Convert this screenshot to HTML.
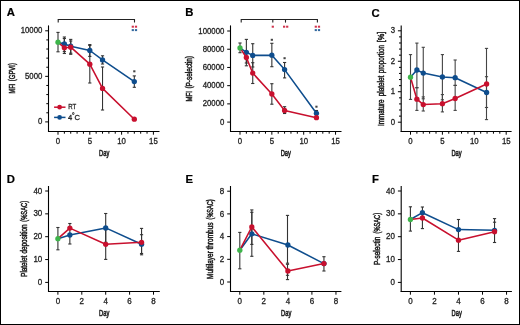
<!DOCTYPE html>
<html><head><meta charset="utf-8"><style>
html,body{margin:0;padding:0;background:#fff;}
svg{display:block;will-change:transform;}
text{font-family:"Liberation Sans",sans-serif;}
</style></head><body>
<svg width="520" height="325" viewBox="0 0 520 325">
<rect x="0" y="0" width="520" height="325" fill="#fff"/>
<rect x="0.5" y="0.5" width="519" height="324" fill="none" stroke="#000" stroke-width="1"/>
<text x="6.8" y="16.4" font-size="11.3" text-anchor="start" fill="#000" font-weight="bold" stroke="#000" stroke-width="0.2" >A</text>
<line x1="48.5" y1="25.4" x2="48.5" y2="132.0" stroke="#000" stroke-width="1.1" />
<line x1="48.0" y1="131.5" x2="159.5" y2="131.5" stroke="#000" stroke-width="1.1" />
<line x1="45.2" y1="121.9" x2="48.5" y2="121.9" stroke="#000" stroke-width="1.0" />
<text transform="translate(42.30,124.45) scale(1,1.06)" font-size="7.8" text-anchor="end" fill="#222" font-weight="normal" stroke="#222" stroke-width="0.28" >0</text>
<line x1="45.2" y1="76.35" x2="48.5" y2="76.35" stroke="#000" stroke-width="1.0" />
<text transform="translate(42.30,78.90) scale(1,1.06)" font-size="7.8" text-anchor="end" fill="#222" font-weight="normal" stroke="#222" stroke-width="0.28" >5000</text>
<line x1="45.2" y1="30.8" x2="48.5" y2="30.8" stroke="#000" stroke-width="1.0" />
<text transform="translate(42.30,33.35) scale(1,1.06)" font-size="7.8" text-anchor="end" fill="#222" font-weight="normal" stroke="#222" stroke-width="0.28" >10000</text>
<line x1="46.3" y1="112.79" x2="48.5" y2="112.79" stroke="#000" stroke-width="1.0" />
<line x1="46.3" y1="103.68" x2="48.5" y2="103.68" stroke="#000" stroke-width="1.0" />
<line x1="46.3" y1="94.57" x2="48.5" y2="94.57" stroke="#000" stroke-width="1.0" />
<line x1="46.3" y1="85.46" x2="48.5" y2="85.46" stroke="#000" stroke-width="1.0" />
<line x1="46.3" y1="67.24" x2="48.5" y2="67.24" stroke="#000" stroke-width="1.0" />
<line x1="46.3" y1="58.13" x2="48.5" y2="58.13" stroke="#000" stroke-width="1.0" />
<line x1="46.3" y1="49.02" x2="48.5" y2="49.02" stroke="#000" stroke-width="1.0" />
<line x1="46.3" y1="39.91" x2="48.5" y2="39.91" stroke="#000" stroke-width="1.0" />
<line x1="58.0" y1="131.5" x2="58.0" y2="134.7" stroke="#000" stroke-width="1.0" />
<text transform="translate(58.00,143.90) scale(1,1.06)" font-size="7.8" text-anchor="middle" fill="#222" font-weight="normal" stroke="#222" stroke-width="0.28" >0</text>
<line x1="89.8" y1="131.5" x2="89.8" y2="134.7" stroke="#000" stroke-width="1.0" />
<text transform="translate(89.80,143.90) scale(1,1.06)" font-size="7.8" text-anchor="middle" fill="#222" font-weight="normal" stroke="#222" stroke-width="0.28" >5</text>
<line x1="121.6" y1="131.5" x2="121.6" y2="134.7" stroke="#000" stroke-width="1.0" />
<text transform="translate(121.60,143.90) scale(1,1.06)" font-size="7.8" text-anchor="middle" fill="#222" font-weight="normal" stroke="#222" stroke-width="0.28" >10</text>
<line x1="153.4" y1="131.5" x2="153.4" y2="134.7" stroke="#000" stroke-width="1.0" />
<text transform="translate(153.40,143.90) scale(1,1.06)" font-size="7.8" text-anchor="middle" fill="#222" font-weight="normal" stroke="#222" stroke-width="0.28" >15</text>
<line x1="64.36" y1="131.5" x2="64.36" y2="133.7" stroke="#000" stroke-width="1.0" />
<line x1="70.72" y1="131.5" x2="70.72" y2="133.7" stroke="#000" stroke-width="1.0" />
<line x1="77.08" y1="131.5" x2="77.08" y2="133.7" stroke="#000" stroke-width="1.0" />
<line x1="83.44" y1="131.5" x2="83.44" y2="133.7" stroke="#000" stroke-width="1.0" />
<line x1="96.16" y1="131.5" x2="96.16" y2="133.7" stroke="#000" stroke-width="1.0" />
<line x1="102.52" y1="131.5" x2="102.52" y2="133.7" stroke="#000" stroke-width="1.0" />
<line x1="108.88" y1="131.5" x2="108.88" y2="133.7" stroke="#000" stroke-width="1.0" />
<line x1="115.24" y1="131.5" x2="115.24" y2="133.7" stroke="#000" stroke-width="1.0" />
<line x1="127.96" y1="131.5" x2="127.96" y2="133.7" stroke="#000" stroke-width="1.0" />
<line x1="134.32" y1="131.5" x2="134.32" y2="133.7" stroke="#000" stroke-width="1.0" />
<line x1="140.68" y1="131.5" x2="140.68" y2="133.7" stroke="#000" stroke-width="1.0" />
<line x1="147.04" y1="131.5" x2="147.04" y2="133.7" stroke="#000" stroke-width="1.0" />
<text transform="translate(14.5,93.4) rotate(-90)" x="0" y="0" font-size="8.3" text-anchor="start" fill="#222" stroke="#222" stroke-width="0.5" textLength="9.5" lengthAdjust="spacingAndGlyphs">MFI</text>
<text transform="translate(14.5,81.2) rotate(-90)" x="0" y="0" font-size="8.3" text-anchor="start" fill="#222" stroke="#222" stroke-width="0.5" textLength="18.1" lengthAdjust="spacingAndGlyphs">(GPVI)</text>
<text x="104.2" y="155.9" font-size="9.5" text-anchor="middle" fill="#222" stroke="#222" stroke-width="0.6" textLength="10.2" lengthAdjust="spacingAndGlyphs">Day</text>
<polyline points="58.2,22.4 58.2,19.5 134.5,19.5 134.5,22.4" fill="none" stroke="#222" stroke-width="1.1"/>
<rect x="131.7" y="25.7" width="2.2" height="2" fill="#c8102e" opacity="0.85"/>
<rect x="134.9" y="25.7" width="2.2" height="2" fill="#c8102e" opacity="0.85"/>
<rect x="131.7" y="29.1" width="2.2" height="2" fill="#0e4d8d" opacity="0.85"/>
<rect x="134.9" y="29.1" width="2.2" height="2" fill="#0e4d8d" opacity="0.85"/>
<line x1="58.0" y1="32.4" x2="58.0" y2="51.8" stroke="#333" stroke-width="1.1" />
<line x1="56.4" y1="32.4" x2="59.6" y2="32.4" stroke="#333" stroke-width="1.1" />
<line x1="56.4" y1="51.8" x2="59.6" y2="51.8" stroke="#333" stroke-width="1.1" />
<line x1="64.36" y1="37" x2="64.36" y2="51.6" stroke="#333" stroke-width="1.1" />
<line x1="62.76" y1="37" x2="65.96" y2="37" stroke="#333" stroke-width="1.1" />
<line x1="62.76" y1="51.6" x2="65.96" y2="51.6" stroke="#333" stroke-width="1.1" />
<line x1="64.36" y1="38.5" x2="64.36" y2="53.5" stroke="#333" stroke-width="1.1" />
<line x1="62.76" y1="38.5" x2="65.96" y2="38.5" stroke="#333" stroke-width="1.1" />
<line x1="62.76" y1="53.5" x2="65.96" y2="53.5" stroke="#333" stroke-width="1.1" />
<line x1="70.72" y1="39.4" x2="70.72" y2="53.2" stroke="#333" stroke-width="1.1" />
<line x1="69.12" y1="39.4" x2="72.32" y2="39.4" stroke="#333" stroke-width="1.1" />
<line x1="69.12" y1="53.2" x2="72.32" y2="53.2" stroke="#333" stroke-width="1.1" />
<line x1="70.72" y1="41" x2="70.72" y2="54.3" stroke="#333" stroke-width="1.1" />
<line x1="69.12" y1="41" x2="72.32" y2="41" stroke="#333" stroke-width="1.1" />
<line x1="69.12" y1="54.3" x2="72.32" y2="54.3" stroke="#333" stroke-width="1.1" />
<line x1="89.8" y1="44.6" x2="89.8" y2="56.4" stroke="#333" stroke-width="1.1" />
<line x1="88.2" y1="44.6" x2="91.4" y2="44.6" stroke="#333" stroke-width="1.1" />
<line x1="88.2" y1="56.4" x2="91.4" y2="56.4" stroke="#333" stroke-width="1.1" />
<line x1="89.8" y1="45.4" x2="89.8" y2="83" stroke="#333" stroke-width="1.1" />
<line x1="88.2" y1="45.4" x2="91.4" y2="45.4" stroke="#333" stroke-width="1.1" />
<line x1="88.2" y1="83" x2="91.4" y2="83" stroke="#333" stroke-width="1.1" />
<line x1="102.52" y1="55.8" x2="102.52" y2="64" stroke="#333" stroke-width="1.1" />
<line x1="100.92" y1="55.8" x2="104.12" y2="55.8" stroke="#333" stroke-width="1.1" />
<line x1="100.92" y1="64" x2="104.12" y2="64" stroke="#333" stroke-width="1.1" />
<line x1="102.52" y1="67" x2="102.52" y2="110" stroke="#333" stroke-width="1.1" />
<line x1="100.92" y1="67" x2="104.12" y2="67" stroke="#333" stroke-width="1.1" />
<line x1="100.92" y1="110" x2="104.12" y2="110" stroke="#333" stroke-width="1.1" />
<line x1="134.32" y1="75.9" x2="134.32" y2="87.3" stroke="#333" stroke-width="1.1" />
<line x1="132.72" y1="75.9" x2="135.92" y2="75.9" stroke="#333" stroke-width="1.1" />
<line x1="132.72" y1="87.3" x2="135.92" y2="87.3" stroke="#333" stroke-width="1.1" />
<rect x="133.22" y="70.3" width="2.2" height="2" fill="#222" opacity="0.85"/>
<polyline points="58.0,42.2 64.36,44.0 70.72,46.2 89.8,50.5 102.52,59.9 134.32,81.6" fill="none" stroke="#0e4d8d" stroke-width="1.55" stroke-linejoin="round"/>
<circle cx="64.36" cy="44.0" r="2.65" fill="#0e4d8d"/>
<circle cx="70.72" cy="46.2" r="2.65" fill="#0e4d8d"/>
<circle cx="89.8" cy="50.5" r="2.65" fill="#0e4d8d"/>
<circle cx="102.52" cy="59.9" r="2.65" fill="#0e4d8d"/>
<circle cx="134.32" cy="81.6" r="2.65" fill="#0e4d8d"/>
<polyline points="58.0,42.2 64.36,47.8 70.72,47.2 89.8,64.2 102.52,88.4 134.32,119.2" fill="none" stroke="#c8102e" stroke-width="1.55" stroke-linejoin="round"/>
<circle cx="64.36" cy="47.8" r="2.65" fill="#c8102e"/>
<circle cx="70.72" cy="47.2" r="2.65" fill="#c8102e"/>
<circle cx="89.8" cy="64.2" r="2.65" fill="#c8102e"/>
<circle cx="102.52" cy="88.4" r="2.65" fill="#c8102e"/>
<circle cx="134.32" cy="119.2" r="2.65" fill="#c8102e"/>
<circle cx="58.0" cy="42.2" r="2.65" fill="#3db54a"/>
<line x1="54.1" y1="107.2" x2="65.5" y2="107.2" stroke="#c8102e" stroke-width="1.5" />
<circle cx="59.6" cy="107.2" r="2.35" fill="#c8102e"/>
<text x="68.2" y="109.3" font-size="7.6" text-anchor="start" fill="#222" font-weight="normal" stroke="#222" stroke-width="0.28" textLength="8" lengthAdjust="spacingAndGlyphs">RT</text>
<line x1="54.1" y1="117.4" x2="65.5" y2="117.4" stroke="#0e4d8d" stroke-width="1.5" />
<circle cx="59.6" cy="117.4" r="2.35" fill="#0e4d8d"/>
<text x="68" y="119.5" font-size="7.6" text-anchor="start" fill="#222" font-weight="normal" stroke="#222" stroke-width="0.28" >4</text>
<text x="72.0" y="118.3" font-size="6.6" text-anchor="start" fill="#222" font-weight="normal" stroke="#222" stroke-width="0.28" >°</text>
<text x="74.6" y="119.5" font-size="7.6" text-anchor="start" fill="#222" font-weight="normal" stroke="#222" stroke-width="0.28" >C</text>
<text x="185.3" y="16.4" font-size="11.3" text-anchor="start" fill="#000" font-weight="bold" stroke="#000" stroke-width="0.2" >B</text>
<line x1="230.5" y1="25.4" x2="230.5" y2="132.0" stroke="#000" stroke-width="1.1" />
<line x1="230.0" y1="131.5" x2="341.5" y2="131.5" stroke="#000" stroke-width="1.1" />
<line x1="227.2" y1="122.1" x2="230.5" y2="122.1" stroke="#000" stroke-width="1.0" />
<text transform="translate(224.30,124.65) scale(1,1.06)" font-size="7.8" text-anchor="end" fill="#222" font-weight="normal" stroke="#222" stroke-width="0.28" >0</text>
<line x1="227.2" y1="103.88" x2="230.5" y2="103.88" stroke="#000" stroke-width="1.0" />
<text transform="translate(224.30,106.43) scale(1,1.06)" font-size="7.8" text-anchor="end" fill="#222" font-weight="normal" stroke="#222" stroke-width="0.28" >20000</text>
<line x1="227.2" y1="85.66" x2="230.5" y2="85.66" stroke="#000" stroke-width="1.0" />
<text transform="translate(224.30,88.21) scale(1,1.06)" font-size="7.8" text-anchor="end" fill="#222" font-weight="normal" stroke="#222" stroke-width="0.28" >40000</text>
<line x1="227.2" y1="67.44" x2="230.5" y2="67.44" stroke="#000" stroke-width="1.0" />
<text transform="translate(224.30,69.99) scale(1,1.06)" font-size="7.8" text-anchor="end" fill="#222" font-weight="normal" stroke="#222" stroke-width="0.28" >60000</text>
<line x1="227.2" y1="49.22" x2="230.5" y2="49.22" stroke="#000" stroke-width="1.0" />
<text transform="translate(224.30,51.77) scale(1,1.06)" font-size="7.8" text-anchor="end" fill="#222" font-weight="normal" stroke="#222" stroke-width="0.28" >80000</text>
<line x1="227.2" y1="31.0" x2="230.5" y2="31.0" stroke="#000" stroke-width="1.0" />
<text transform="translate(224.30,33.55) scale(1,1.06)" font-size="7.8" text-anchor="end" fill="#222" font-weight="normal" stroke="#222" stroke-width="0.28" >100000</text>
<line x1="240.0" y1="131.5" x2="240.0" y2="134.7" stroke="#000" stroke-width="1.0" />
<text transform="translate(240.00,143.90) scale(1,1.06)" font-size="7.8" text-anchor="middle" fill="#222" font-weight="normal" stroke="#222" stroke-width="0.28" >0</text>
<line x1="271.85" y1="131.5" x2="271.85" y2="134.7" stroke="#000" stroke-width="1.0" />
<text transform="translate(271.85,143.90) scale(1,1.06)" font-size="7.8" text-anchor="middle" fill="#222" font-weight="normal" stroke="#222" stroke-width="0.28" >5</text>
<line x1="303.7" y1="131.5" x2="303.7" y2="134.7" stroke="#000" stroke-width="1.0" />
<text transform="translate(303.70,143.90) scale(1,1.06)" font-size="7.8" text-anchor="middle" fill="#222" font-weight="normal" stroke="#222" stroke-width="0.28" >10</text>
<line x1="335.55" y1="131.5" x2="335.55" y2="134.7" stroke="#000" stroke-width="1.0" />
<text transform="translate(335.55,143.90) scale(1,1.06)" font-size="7.8" text-anchor="middle" fill="#222" font-weight="normal" stroke="#222" stroke-width="0.28" >15</text>
<line x1="246.37" y1="131.5" x2="246.37" y2="133.7" stroke="#000" stroke-width="1.0" />
<line x1="252.74" y1="131.5" x2="252.74" y2="133.7" stroke="#000" stroke-width="1.0" />
<line x1="259.11" y1="131.5" x2="259.11" y2="133.7" stroke="#000" stroke-width="1.0" />
<line x1="265.48" y1="131.5" x2="265.48" y2="133.7" stroke="#000" stroke-width="1.0" />
<line x1="278.22" y1="131.5" x2="278.22" y2="133.7" stroke="#000" stroke-width="1.0" />
<line x1="284.59" y1="131.5" x2="284.59" y2="133.7" stroke="#000" stroke-width="1.0" />
<line x1="290.96" y1="131.5" x2="290.96" y2="133.7" stroke="#000" stroke-width="1.0" />
<line x1="297.33" y1="131.5" x2="297.33" y2="133.7" stroke="#000" stroke-width="1.0" />
<line x1="310.07" y1="131.5" x2="310.07" y2="133.7" stroke="#000" stroke-width="1.0" />
<line x1="316.44" y1="131.5" x2="316.44" y2="133.7" stroke="#000" stroke-width="1.0" />
<line x1="322.81" y1="131.5" x2="322.81" y2="133.7" stroke="#000" stroke-width="1.0" />
<line x1="329.18" y1="131.5" x2="329.18" y2="133.7" stroke="#000" stroke-width="1.0" />
<text transform="translate(192.3,101.5) rotate(-90)" x="0" y="0" font-size="8.3" text-anchor="start" fill="#222" stroke="#222" stroke-width="0.5" textLength="10.4" lengthAdjust="spacingAndGlyphs">MFI</text>
<text transform="translate(192.3,88.6) rotate(-90)" x="0" y="0" font-size="8.3" text-anchor="start" fill="#222" stroke="#222" stroke-width="0.5" textLength="32.6" lengthAdjust="spacingAndGlyphs">(P-selectin)</text>
<text x="285.8" y="155.9" font-size="9.5" text-anchor="middle" fill="#222" stroke="#222" stroke-width="0.6" textLength="10.2" lengthAdjust="spacingAndGlyphs">Day</text>
<polyline points="241.2,22.6 241.2,19.5 317.4,19.5 317.4,22.6" fill="none" stroke="#222" stroke-width="1.1"/>
<line x1="272.8" y1="19.5" x2="272.8" y2="22.6" stroke="#222" stroke-width="1.1" />
<line x1="285.5" y1="19.5" x2="285.5" y2="22.6" stroke="#222" stroke-width="1.1" />
<rect x="271.7" y="25.7" width="2.2" height="2" fill="#c8102e" opacity="0.85"/>
<rect x="283" y="25.7" width="2.2" height="2" fill="#c8102e" opacity="0.85"/>
<rect x="286.1" y="25.7" width="2.2" height="2" fill="#c8102e" opacity="0.85"/>
<rect x="314.7" y="25.7" width="2.2" height="2" fill="#c8102e" opacity="0.85"/>
<rect x="317.9" y="25.7" width="2.2" height="2" fill="#c8102e" opacity="0.85"/>
<rect x="314.7" y="29.1" width="2.2" height="2" fill="#0e4d8d" opacity="0.85"/>
<rect x="317.9" y="29.1" width="2.2" height="2" fill="#0e4d8d" opacity="0.85"/>
<line x1="240.0" y1="43" x2="240.0" y2="52.7" stroke="#333" stroke-width="1.1" />
<line x1="238.4" y1="43" x2="241.6" y2="43" stroke="#333" stroke-width="1.1" />
<line x1="238.4" y1="52.7" x2="241.6" y2="52.7" stroke="#333" stroke-width="1.1" />
<line x1="246.37" y1="39.4" x2="246.37" y2="65.8" stroke="#333" stroke-width="1.1" />
<line x1="244.77" y1="39.4" x2="247.97" y2="39.4" stroke="#333" stroke-width="1.1" />
<line x1="244.77" y1="65.8" x2="247.97" y2="65.8" stroke="#333" stroke-width="1.1" />
<line x1="246.37" y1="52" x2="246.37" y2="63" stroke="#333" stroke-width="1.1" />
<line x1="244.77" y1="52" x2="247.97" y2="52" stroke="#333" stroke-width="1.1" />
<line x1="244.77" y1="63" x2="247.97" y2="63" stroke="#333" stroke-width="1.1" />
<line x1="252.74" y1="43.7" x2="252.74" y2="67" stroke="#333" stroke-width="1.1" />
<line x1="251.14" y1="43.7" x2="254.34" y2="43.7" stroke="#333" stroke-width="1.1" />
<line x1="251.14" y1="67" x2="254.34" y2="67" stroke="#333" stroke-width="1.1" />
<line x1="252.74" y1="62.7" x2="252.74" y2="83.5" stroke="#333" stroke-width="1.1" />
<line x1="251.14" y1="62.7" x2="254.34" y2="62.7" stroke="#333" stroke-width="1.1" />
<line x1="251.14" y1="83.5" x2="254.34" y2="83.5" stroke="#333" stroke-width="1.1" />
<line x1="271.85" y1="43.3" x2="271.85" y2="66.7" stroke="#333" stroke-width="1.1" />
<line x1="270.25" y1="43.3" x2="273.45" y2="43.3" stroke="#333" stroke-width="1.1" />
<line x1="270.25" y1="66.7" x2="273.45" y2="66.7" stroke="#333" stroke-width="1.1" />
<line x1="271.85" y1="83.7" x2="271.85" y2="104.2" stroke="#333" stroke-width="1.1" />
<line x1="270.25" y1="83.7" x2="273.45" y2="83.7" stroke="#333" stroke-width="1.1" />
<line x1="270.25" y1="104.2" x2="273.45" y2="104.2" stroke="#333" stroke-width="1.1" />
<line x1="284.59" y1="62.5" x2="284.59" y2="77.9" stroke="#333" stroke-width="1.1" />
<line x1="282.99" y1="62.5" x2="286.19" y2="62.5" stroke="#333" stroke-width="1.1" />
<line x1="282.99" y1="77.9" x2="286.19" y2="77.9" stroke="#333" stroke-width="1.1" />
<line x1="284.59" y1="106.7" x2="284.59" y2="113.5" stroke="#333" stroke-width="1.1" />
<line x1="282.99" y1="106.7" x2="286.19" y2="106.7" stroke="#333" stroke-width="1.1" />
<line x1="282.99" y1="113.5" x2="286.19" y2="113.5" stroke="#333" stroke-width="1.1" />
<line x1="316.44" y1="110.5" x2="316.44" y2="116" stroke="#333" stroke-width="1.1" />
<line x1="314.84" y1="110.5" x2="318.04" y2="110.5" stroke="#333" stroke-width="1.1" />
<line x1="314.84" y1="116" x2="318.04" y2="116" stroke="#333" stroke-width="1.1" />
<rect x="270.75" y="38.8" width="2.2" height="2" fill="#222" opacity="0.85"/>
<rect x="283.49" y="57.2" width="2.2" height="2" fill="#222" opacity="0.85"/>
<rect x="315.34" y="105.7" width="2.2" height="2" fill="#222" opacity="0.85"/>
<polyline points="240.0,47.9 246.37,52.3 252.74,55.4 271.85,55.2 284.59,69.6 316.44,113.3" fill="none" stroke="#0e4d8d" stroke-width="1.55" stroke-linejoin="round"/>
<circle cx="246.37" cy="52.3" r="2.65" fill="#0e4d8d"/>
<circle cx="252.74" cy="55.4" r="2.65" fill="#0e4d8d"/>
<circle cx="271.85" cy="55.2" r="2.65" fill="#0e4d8d"/>
<circle cx="284.59" cy="69.6" r="2.65" fill="#0e4d8d"/>
<circle cx="316.44" cy="113.3" r="2.65" fill="#0e4d8d"/>
<polyline points="240.0,47.9 246.37,57.5 252.74,73.1 271.85,94.0 284.59,110.4 316.44,117.7" fill="none" stroke="#c8102e" stroke-width="1.55" stroke-linejoin="round"/>
<circle cx="246.37" cy="57.5" r="2.65" fill="#c8102e"/>
<circle cx="252.74" cy="73.1" r="2.65" fill="#c8102e"/>
<circle cx="271.85" cy="94.0" r="2.65" fill="#c8102e"/>
<circle cx="284.59" cy="110.4" r="2.65" fill="#c8102e"/>
<circle cx="316.44" cy="117.7" r="2.65" fill="#c8102e"/>
<circle cx="240.0" cy="47.9" r="2.65" fill="#3db54a"/>
<text x="371.5" y="16.6" font-size="11.3" text-anchor="start" fill="#000" font-weight="bold" stroke="#000" stroke-width="0.2" >C</text>
<line x1="401.2" y1="25.4" x2="401.2" y2="132.0" stroke="#000" stroke-width="1.1" />
<line x1="400.7" y1="131.5" x2="511.6" y2="131.5" stroke="#000" stroke-width="1.1" />
<line x1="397.9" y1="122.2" x2="401.2" y2="122.2" stroke="#000" stroke-width="1.0" />
<text transform="translate(395.00,124.75) scale(1,1.06)" font-size="7.8" text-anchor="end" fill="#222" font-weight="normal" stroke="#222" stroke-width="0.28" >0</text>
<line x1="397.9" y1="91.73" x2="401.2" y2="91.73" stroke="#000" stroke-width="1.0" />
<text transform="translate(395.00,94.28) scale(1,1.06)" font-size="7.8" text-anchor="end" fill="#222" font-weight="normal" stroke="#222" stroke-width="0.28" >1</text>
<line x1="397.9" y1="61.27" x2="401.2" y2="61.27" stroke="#000" stroke-width="1.0" />
<text transform="translate(395.00,63.82) scale(1,1.06)" font-size="7.8" text-anchor="end" fill="#222" font-weight="normal" stroke="#222" stroke-width="0.28" >2</text>
<line x1="397.9" y1="30.8" x2="401.2" y2="30.8" stroke="#000" stroke-width="1.0" />
<text transform="translate(395.00,33.35) scale(1,1.06)" font-size="7.8" text-anchor="end" fill="#222" font-weight="normal" stroke="#222" stroke-width="0.28" >3</text>
<line x1="399.0" y1="116.11" x2="401.2" y2="116.11" stroke="#000" stroke-width="1.0" />
<line x1="399.0" y1="110.01" x2="401.2" y2="110.01" stroke="#000" stroke-width="1.0" />
<line x1="399.0" y1="103.92" x2="401.2" y2="103.92" stroke="#000" stroke-width="1.0" />
<line x1="399.0" y1="97.83" x2="401.2" y2="97.83" stroke="#000" stroke-width="1.0" />
<line x1="399.0" y1="85.64" x2="401.2" y2="85.64" stroke="#000" stroke-width="1.0" />
<line x1="399.0" y1="79.55" x2="401.2" y2="79.55" stroke="#000" stroke-width="1.0" />
<line x1="399.0" y1="73.45" x2="401.2" y2="73.45" stroke="#000" stroke-width="1.0" />
<line x1="399.0" y1="67.36" x2="401.2" y2="67.36" stroke="#000" stroke-width="1.0" />
<line x1="399.0" y1="55.17" x2="401.2" y2="55.17" stroke="#000" stroke-width="1.0" />
<line x1="399.0" y1="49.08" x2="401.2" y2="49.08" stroke="#000" stroke-width="1.0" />
<line x1="399.0" y1="42.99" x2="401.2" y2="42.99" stroke="#000" stroke-width="1.0" />
<line x1="399.0" y1="36.89" x2="401.2" y2="36.89" stroke="#000" stroke-width="1.0" />
<line x1="410.5" y1="131.5" x2="410.5" y2="134.7" stroke="#000" stroke-width="1.0" />
<text transform="translate(410.50,143.90) scale(1,1.06)" font-size="7.8" text-anchor="middle" fill="#222" font-weight="normal" stroke="#222" stroke-width="0.28" >0</text>
<line x1="442.4" y1="131.5" x2="442.4" y2="134.7" stroke="#000" stroke-width="1.0" />
<text transform="translate(442.40,143.90) scale(1,1.06)" font-size="7.8" text-anchor="middle" fill="#222" font-weight="normal" stroke="#222" stroke-width="0.28" >5</text>
<line x1="474.3" y1="131.5" x2="474.3" y2="134.7" stroke="#000" stroke-width="1.0" />
<text transform="translate(474.30,143.90) scale(1,1.06)" font-size="7.8" text-anchor="middle" fill="#222" font-weight="normal" stroke="#222" stroke-width="0.28" >10</text>
<line x1="506.2" y1="131.5" x2="506.2" y2="134.7" stroke="#000" stroke-width="1.0" />
<text transform="translate(506.20,143.90) scale(1,1.06)" font-size="7.8" text-anchor="middle" fill="#222" font-weight="normal" stroke="#222" stroke-width="0.28" >15</text>
<line x1="416.88" y1="131.5" x2="416.88" y2="133.7" stroke="#000" stroke-width="1.0" />
<line x1="423.26" y1="131.5" x2="423.26" y2="133.7" stroke="#000" stroke-width="1.0" />
<line x1="429.64" y1="131.5" x2="429.64" y2="133.7" stroke="#000" stroke-width="1.0" />
<line x1="436.02" y1="131.5" x2="436.02" y2="133.7" stroke="#000" stroke-width="1.0" />
<line x1="448.78" y1="131.5" x2="448.78" y2="133.7" stroke="#000" stroke-width="1.0" />
<line x1="455.16" y1="131.5" x2="455.16" y2="133.7" stroke="#000" stroke-width="1.0" />
<line x1="461.54" y1="131.5" x2="461.54" y2="133.7" stroke="#000" stroke-width="1.0" />
<line x1="467.92" y1="131.5" x2="467.92" y2="133.7" stroke="#000" stroke-width="1.0" />
<line x1="480.68" y1="131.5" x2="480.68" y2="133.7" stroke="#000" stroke-width="1.0" />
<line x1="487.06" y1="131.5" x2="487.06" y2="133.7" stroke="#000" stroke-width="1.0" />
<line x1="493.44" y1="131.5" x2="493.44" y2="133.7" stroke="#000" stroke-width="1.0" />
<line x1="499.82" y1="131.5" x2="499.82" y2="133.7" stroke="#000" stroke-width="1.0" />
<text transform="translate(384.1,125.9) rotate(-90)" x="0" y="0" font-size="8.3" text-anchor="start" fill="#222" stroke="#222" stroke-width="0.5" textLength="26.5" lengthAdjust="spacingAndGlyphs">Immature</text>
<text transform="translate(384.1,96.3) rotate(-90)" x="0" y="0" font-size="8.3" text-anchor="start" fill="#222" stroke="#222" stroke-width="0.5" textLength="20.6" lengthAdjust="spacingAndGlyphs">platelet</text>
<text transform="translate(384.1,73.2) rotate(-90)" x="0" y="0" font-size="8.3" text-anchor="start" fill="#222" stroke="#222" stroke-width="0.5" textLength="28.1" lengthAdjust="spacingAndGlyphs">proportion</text>
<text transform="translate(384.1,42.3) rotate(-90)" x="0" y="0" font-size="8.3" text-anchor="start" fill="#222" stroke="#222" stroke-width="0.5" textLength="10.6" lengthAdjust="spacingAndGlyphs">[%]</text>
<text x="456.5" y="155.9" font-size="9.5" text-anchor="middle" fill="#222" stroke="#222" stroke-width="0.6" textLength="10.2" lengthAdjust="spacingAndGlyphs">Day</text>
<line x1="410.5" y1="54.6" x2="410.5" y2="99.4" stroke="#444" stroke-width="1.1" />
<line x1="408.9" y1="54.6" x2="412.1" y2="54.6" stroke="#444" stroke-width="1.1" />
<line x1="408.9" y1="99.4" x2="412.1" y2="99.4" stroke="#444" stroke-width="1.1" />
<line x1="416.88" y1="43.1" x2="416.88" y2="87.7" stroke="#444" stroke-width="1.1" />
<line x1="415.28" y1="43.1" x2="418.48" y2="43.1" stroke="#444" stroke-width="1.1" />
<line x1="415.28" y1="87.7" x2="418.48" y2="87.7" stroke="#444" stroke-width="1.1" />
<line x1="416.88" y1="87.7" x2="416.88" y2="110.4" stroke="#444" stroke-width="1.1" />
<line x1="415.28" y1="87.7" x2="418.48" y2="87.7" stroke="#444" stroke-width="1.1" />
<line x1="415.28" y1="110.4" x2="418.48" y2="110.4" stroke="#444" stroke-width="1.1" />
<line x1="423.26" y1="47.3" x2="423.26" y2="98.8" stroke="#444" stroke-width="1.1" />
<line x1="421.66" y1="47.3" x2="424.86" y2="47.3" stroke="#444" stroke-width="1.1" />
<line x1="421.66" y1="98.8" x2="424.86" y2="98.8" stroke="#444" stroke-width="1.1" />
<line x1="423.26" y1="96.9" x2="423.26" y2="111" stroke="#444" stroke-width="1.1" />
<line x1="421.66" y1="96.9" x2="424.86" y2="96.9" stroke="#444" stroke-width="1.1" />
<line x1="421.66" y1="111" x2="424.86" y2="111" stroke="#444" stroke-width="1.1" />
<line x1="442.4" y1="54.6" x2="442.4" y2="99.8" stroke="#444" stroke-width="1.1" />
<line x1="440.8" y1="54.6" x2="444.0" y2="54.6" stroke="#444" stroke-width="1.1" />
<line x1="440.8" y1="99.8" x2="444.0" y2="99.8" stroke="#444" stroke-width="1.1" />
<line x1="442.4" y1="94.6" x2="442.4" y2="111.9" stroke="#444" stroke-width="1.1" />
<line x1="440.8" y1="94.6" x2="444.0" y2="94.6" stroke="#444" stroke-width="1.1" />
<line x1="440.8" y1="111.9" x2="444.0" y2="111.9" stroke="#444" stroke-width="1.1" />
<line x1="455.16" y1="60" x2="455.16" y2="85.4" stroke="#444" stroke-width="1.1" />
<line x1="453.56" y1="60" x2="456.76" y2="60" stroke="#444" stroke-width="1.1" />
<line x1="453.56" y1="85.4" x2="456.76" y2="85.4" stroke="#444" stroke-width="1.1" />
<line x1="455.16" y1="85.4" x2="455.16" y2="110.4" stroke="#444" stroke-width="1.1" />
<line x1="453.56" y1="85.4" x2="456.76" y2="85.4" stroke="#444" stroke-width="1.1" />
<line x1="453.56" y1="110.4" x2="456.76" y2="110.4" stroke="#444" stroke-width="1.1" />
<line x1="486.5" y1="48.4" x2="486.5" y2="107.5" stroke="#444" stroke-width="1.1" />
<line x1="484.9" y1="48.4" x2="488.1" y2="48.4" stroke="#444" stroke-width="1.1" />
<line x1="484.9" y1="107.5" x2="488.1" y2="107.5" stroke="#444" stroke-width="1.1" />
<line x1="486.5" y1="76.7" x2="486.5" y2="119.6" stroke="#444" stroke-width="1.1" />
<line x1="484.9" y1="76.7" x2="488.1" y2="76.7" stroke="#444" stroke-width="1.1" />
<line x1="484.9" y1="119.6" x2="488.1" y2="119.6" stroke="#444" stroke-width="1.1" />
<polyline points="410.5,77.2 416.88,70.0 423.26,73.1 442.4,76.9 455.16,77.7 486.6,92.5" fill="none" stroke="#0e4d8d" stroke-width="1.55" stroke-linejoin="round"/>
<circle cx="416.88" cy="70.0" r="2.65" fill="#0e4d8d"/>
<circle cx="423.26" cy="73.1" r="2.65" fill="#0e4d8d"/>
<circle cx="442.4" cy="76.9" r="2.65" fill="#0e4d8d"/>
<circle cx="455.16" cy="77.7" r="2.65" fill="#0e4d8d"/>
<circle cx="486.6" cy="92.5" r="2.65" fill="#0e4d8d"/>
<polyline points="410.5,77.2 416.88,99.2 423.26,104.6 442.4,103.7 455.16,98.5 486.6,84.0" fill="none" stroke="#c8102e" stroke-width="1.55" stroke-linejoin="round"/>
<circle cx="416.88" cy="99.2" r="2.65" fill="#c8102e"/>
<circle cx="423.26" cy="104.6" r="2.65" fill="#c8102e"/>
<circle cx="442.4" cy="103.7" r="2.65" fill="#c8102e"/>
<circle cx="455.16" cy="98.5" r="2.65" fill="#c8102e"/>
<circle cx="486.6" cy="84.0" r="2.65" fill="#c8102e"/>
<circle cx="410.5" cy="77.2" r="2.65" fill="#3db54a"/>
<text x="6.8" y="182.8" font-size="11.3" text-anchor="start" fill="#000" font-weight="bold" stroke="#000" stroke-width="0.2" >D</text>
<line x1="48.5" y1="186" x2="48.5" y2="292.0" stroke="#000" stroke-width="1.1" />
<line x1="48.0" y1="291.5" x2="159.8" y2="291.5" stroke="#000" stroke-width="1.1" />
<line x1="45.2" y1="282.4" x2="48.5" y2="282.4" stroke="#000" stroke-width="1.0" />
<text transform="translate(42.30,285.00) scale(1,1.13)" font-size="8.0" text-anchor="end" fill="#222" font-weight="normal" stroke="#222" stroke-width="0.28" >0</text>
<line x1="45.2" y1="259.55" x2="48.5" y2="259.55" stroke="#000" stroke-width="1.0" />
<text transform="translate(42.30,262.15) scale(1,1.13)" font-size="8.0" text-anchor="end" fill="#222" font-weight="normal" stroke="#222" stroke-width="0.28" >10</text>
<line x1="45.2" y1="236.7" x2="48.5" y2="236.7" stroke="#000" stroke-width="1.0" />
<text transform="translate(42.30,239.30) scale(1,1.13)" font-size="8.0" text-anchor="end" fill="#222" font-weight="normal" stroke="#222" stroke-width="0.28" >20</text>
<line x1="45.2" y1="213.85" x2="48.5" y2="213.85" stroke="#000" stroke-width="1.0" />
<text transform="translate(42.30,216.45) scale(1,1.13)" font-size="8.0" text-anchor="end" fill="#222" font-weight="normal" stroke="#222" stroke-width="0.28" >30</text>
<line x1="45.2" y1="191.0" x2="48.5" y2="191.0" stroke="#000" stroke-width="1.0" />
<text transform="translate(42.30,193.60) scale(1,1.13)" font-size="8.0" text-anchor="end" fill="#222" font-weight="normal" stroke="#222" stroke-width="0.28" >40</text>
<line x1="57.9" y1="291.5" x2="57.9" y2="294.7" stroke="#000" stroke-width="1.0" />
<text transform="translate(57.90,303.90) scale(1,1.13)" font-size="8.0" text-anchor="middle" fill="#222" font-weight="normal" stroke="#222" stroke-width="0.28" >0</text>
<line x1="81.8" y1="291.5" x2="81.8" y2="294.7" stroke="#000" stroke-width="1.0" />
<text transform="translate(81.80,303.90) scale(1,1.13)" font-size="8.0" text-anchor="middle" fill="#222" font-weight="normal" stroke="#222" stroke-width="0.28" >2</text>
<line x1="105.7" y1="291.5" x2="105.7" y2="294.7" stroke="#000" stroke-width="1.0" />
<text transform="translate(105.70,303.90) scale(1,1.13)" font-size="8.0" text-anchor="middle" fill="#222" font-weight="normal" stroke="#222" stroke-width="0.28" >4</text>
<line x1="129.6" y1="291.5" x2="129.6" y2="294.7" stroke="#000" stroke-width="1.0" />
<text transform="translate(129.60,303.90) scale(1,1.13)" font-size="8.0" text-anchor="middle" fill="#222" font-weight="normal" stroke="#222" stroke-width="0.28" >6</text>
<line x1="153.5" y1="291.5" x2="153.5" y2="294.7" stroke="#000" stroke-width="1.0" />
<text transform="translate(153.50,303.90) scale(1,1.13)" font-size="8.0" text-anchor="middle" fill="#222" font-weight="normal" stroke="#222" stroke-width="0.28" >8</text>
<text transform="translate(26.8,276.7) rotate(-90)" x="0" y="0" font-size="8.3" text-anchor="start" fill="#222" stroke="#222" stroke-width="0.5" textLength="20.9" lengthAdjust="spacingAndGlyphs">Platelet</text>
<text transform="translate(26.8,253.6) rotate(-90)" x="0" y="0" font-size="8.3" text-anchor="start" fill="#222" stroke="#222" stroke-width="0.5" textLength="29.2" lengthAdjust="spacingAndGlyphs">deposition</text>
<text transform="translate(26.8,221.7) rotate(-90)" x="0" y="0" font-size="8.3" text-anchor="start" fill="#222" stroke="#222" stroke-width="0.5" textLength="20.8" lengthAdjust="spacingAndGlyphs">(%SAC)</text>
<text x="104.2" y="315.9" font-size="9.5" text-anchor="middle" fill="#222" stroke="#222" stroke-width="0.6" textLength="10.2" lengthAdjust="spacingAndGlyphs">Day</text>
<line x1="57.9" y1="227.5" x2="57.9" y2="249.8" stroke="#333" stroke-width="1.1" />
<line x1="56.3" y1="227.5" x2="59.5" y2="227.5" stroke="#333" stroke-width="1.1" />
<line x1="56.3" y1="249.8" x2="59.5" y2="249.8" stroke="#333" stroke-width="1.1" />
<line x1="69.85" y1="223.5" x2="69.85" y2="244.0" stroke="#333" stroke-width="1.1" />
<line x1="68.25" y1="223.5" x2="71.45" y2="223.5" stroke="#333" stroke-width="1.1" />
<line x1="68.25" y1="244.0" x2="71.45" y2="244.0" stroke="#333" stroke-width="1.1" />
<line x1="105.7" y1="213.5" x2="105.7" y2="242.3" stroke="#333" stroke-width="1.1" />
<line x1="104.1" y1="213.5" x2="107.3" y2="213.5" stroke="#333" stroke-width="1.1" />
<line x1="104.1" y1="242.3" x2="107.3" y2="242.3" stroke="#333" stroke-width="1.1" />
<line x1="105.7" y1="229.6" x2="105.7" y2="259.4" stroke="#333" stroke-width="1.1" />
<line x1="104.1" y1="229.6" x2="107.3" y2="229.6" stroke="#333" stroke-width="1.1" />
<line x1="104.1" y1="259.4" x2="107.3" y2="259.4" stroke="#333" stroke-width="1.1" />
<line x1="141.55" y1="228.4" x2="141.55" y2="254.8" stroke="#333" stroke-width="1.1" />
<line x1="139.95" y1="228.4" x2="143.15" y2="228.4" stroke="#333" stroke-width="1.1" />
<line x1="139.95" y1="254.8" x2="143.15" y2="254.8" stroke="#333" stroke-width="1.1" />
<line x1="141.55" y1="234.7" x2="141.55" y2="253.5" stroke="#333" stroke-width="1.1" />
<line x1="139.95" y1="234.7" x2="143.15" y2="234.7" stroke="#333" stroke-width="1.1" />
<line x1="139.95" y1="253.5" x2="143.15" y2="253.5" stroke="#333" stroke-width="1.1" />
<polyline points="57.9,238.7 69.85,235.0 105.7,227.9 141.55,244.2" fill="none" stroke="#0e4d8d" stroke-width="1.55" stroke-linejoin="round"/>
<circle cx="69.85" cy="235.0" r="2.65" fill="#0e4d8d"/>
<circle cx="105.7" cy="227.9" r="2.65" fill="#0e4d8d"/>
<circle cx="141.55" cy="244.2" r="2.65" fill="#0e4d8d"/>
<polyline points="57.9,238.7 69.85,228.1 105.7,244.3 141.55,242.3" fill="none" stroke="#c8102e" stroke-width="1.55" stroke-linejoin="round"/>
<circle cx="69.85" cy="228.1" r="2.65" fill="#c8102e"/>
<circle cx="105.7" cy="244.3" r="2.65" fill="#c8102e"/>
<circle cx="141.55" cy="242.3" r="2.65" fill="#c8102e"/>
<circle cx="57.9" cy="238.7" r="2.65" fill="#3db54a"/>
<text x="185.5" y="183.2" font-size="11.3" text-anchor="start" fill="#000" font-weight="bold" stroke="#000" stroke-width="0.2" >E</text>
<line x1="230.5" y1="186" x2="230.5" y2="292.0" stroke="#000" stroke-width="1.1" />
<line x1="230.0" y1="291.5" x2="341.4" y2="291.5" stroke="#000" stroke-width="1.1" />
<line x1="227.2" y1="282.0" x2="230.5" y2="282.0" stroke="#000" stroke-width="1.0" />
<text transform="translate(224.30,284.60) scale(1,1.13)" font-size="8.0" text-anchor="end" fill="#222" font-weight="normal" stroke="#222" stroke-width="0.28" >0</text>
<line x1="227.2" y1="259.3" x2="230.5" y2="259.3" stroke="#000" stroke-width="1.0" />
<text transform="translate(224.30,261.90) scale(1,1.13)" font-size="8.0" text-anchor="end" fill="#222" font-weight="normal" stroke="#222" stroke-width="0.28" >2</text>
<line x1="227.2" y1="236.6" x2="230.5" y2="236.6" stroke="#000" stroke-width="1.0" />
<text transform="translate(224.30,239.20) scale(1,1.13)" font-size="8.0" text-anchor="end" fill="#222" font-weight="normal" stroke="#222" stroke-width="0.28" >4</text>
<line x1="227.2" y1="213.9" x2="230.5" y2="213.9" stroke="#000" stroke-width="1.0" />
<text transform="translate(224.30,216.50) scale(1,1.13)" font-size="8.0" text-anchor="end" fill="#222" font-weight="normal" stroke="#222" stroke-width="0.28" >6</text>
<line x1="227.2" y1="191.2" x2="230.5" y2="191.2" stroke="#000" stroke-width="1.0" />
<text transform="translate(224.30,193.80) scale(1,1.13)" font-size="8.0" text-anchor="end" fill="#222" font-weight="normal" stroke="#222" stroke-width="0.28" >8</text>
<line x1="239.8" y1="291.5" x2="239.8" y2="294.7" stroke="#000" stroke-width="1.0" />
<text transform="translate(239.80,303.90) scale(1,1.13)" font-size="8.0" text-anchor="middle" fill="#222" font-weight="normal" stroke="#222" stroke-width="0.28" >0</text>
<line x1="263.84" y1="291.5" x2="263.84" y2="294.7" stroke="#000" stroke-width="1.0" />
<text transform="translate(263.84,303.90) scale(1,1.13)" font-size="8.0" text-anchor="middle" fill="#222" font-weight="normal" stroke="#222" stroke-width="0.28" >2</text>
<line x1="287.88" y1="291.5" x2="287.88" y2="294.7" stroke="#000" stroke-width="1.0" />
<text transform="translate(287.88,303.90) scale(1,1.13)" font-size="8.0" text-anchor="middle" fill="#222" font-weight="normal" stroke="#222" stroke-width="0.28" >4</text>
<line x1="311.92" y1="291.5" x2="311.92" y2="294.7" stroke="#000" stroke-width="1.0" />
<text transform="translate(311.92,303.90) scale(1,1.13)" font-size="8.0" text-anchor="middle" fill="#222" font-weight="normal" stroke="#222" stroke-width="0.28" >6</text>
<line x1="335.96" y1="291.5" x2="335.96" y2="294.7" stroke="#000" stroke-width="1.0" />
<text transform="translate(335.96,303.90) scale(1,1.13)" font-size="8.0" text-anchor="middle" fill="#222" font-weight="normal" stroke="#222" stroke-width="0.28" >8</text>
<text transform="translate(213.2,278.9) rotate(-90)" x="0" y="0" font-size="8.3" text-anchor="start" fill="#222" stroke="#222" stroke-width="0.5" textLength="27.7" lengthAdjust="spacingAndGlyphs">Multilayer</text>
<text transform="translate(213.2,249.6) rotate(-90)" x="0" y="0" font-size="8.3" text-anchor="start" fill="#222" stroke="#222" stroke-width="0.5" textLength="27.2" lengthAdjust="spacingAndGlyphs">thrombus</text>
<text transform="translate(213.2,219.4) rotate(-90)" x="0" y="0" font-size="8.3" text-anchor="start" fill="#222" stroke="#222" stroke-width="0.5" textLength="19.9" lengthAdjust="spacingAndGlyphs">(%SAC)</text>
<text x="286.2" y="315.9" font-size="9.5" text-anchor="middle" fill="#222" stroke="#222" stroke-width="0.6" textLength="10.2" lengthAdjust="spacingAndGlyphs">Day</text>
<line x1="239.8" y1="232.4" x2="239.8" y2="268.8" stroke="#333" stroke-width="1.1" />
<line x1="238.2" y1="232.4" x2="241.4" y2="232.4" stroke="#333" stroke-width="1.1" />
<line x1="238.2" y1="268.8" x2="241.4" y2="268.8" stroke="#333" stroke-width="1.1" />
<line x1="251.82" y1="209.9" x2="251.82" y2="244.4" stroke="#333" stroke-width="1.1" />
<line x1="250.22" y1="209.9" x2="253.42" y2="209.9" stroke="#333" stroke-width="1.1" />
<line x1="250.22" y1="244.4" x2="253.42" y2="244.4" stroke="#333" stroke-width="1.1" />
<line x1="251.82" y1="212.3" x2="251.82" y2="256.3" stroke="#333" stroke-width="1.1" />
<line x1="250.22" y1="212.3" x2="253.42" y2="212.3" stroke="#333" stroke-width="1.1" />
<line x1="250.22" y1="256.3" x2="253.42" y2="256.3" stroke="#333" stroke-width="1.1" />
<line x1="287.5" y1="215.4" x2="287.5" y2="263.2" stroke="#333" stroke-width="1.1" />
<line x1="285.9" y1="215.4" x2="289.1" y2="215.4" stroke="#333" stroke-width="1.1" />
<line x1="285.9" y1="263.2" x2="289.1" y2="263.2" stroke="#333" stroke-width="1.1" />
<line x1="287.5" y1="264.3" x2="287.5" y2="279.6" stroke="#333" stroke-width="1.1" />
<line x1="285.9" y1="264.3" x2="289.1" y2="264.3" stroke="#333" stroke-width="1.1" />
<line x1="285.9" y1="279.6" x2="289.1" y2="279.6" stroke="#333" stroke-width="1.1" />
<line x1="285.9" y1="275.3" x2="289.1" y2="275.3" stroke="#333" stroke-width="1.1" />
<line x1="323.94" y1="256.7" x2="323.94" y2="271" stroke="#333" stroke-width="1.1" />
<line x1="322.34" y1="256.7" x2="325.54" y2="256.7" stroke="#333" stroke-width="1.1" />
<line x1="322.34" y1="271" x2="325.54" y2="271" stroke="#333" stroke-width="1.1" />
<polyline points="239.8,250.2 251.82,233.8 287.88,245.0 323.94,263.6" fill="none" stroke="#0e4d8d" stroke-width="1.55" stroke-linejoin="round"/>
<circle cx="251.82" cy="233.8" r="2.65" fill="#0e4d8d"/>
<circle cx="287.88" cy="245.0" r="2.65" fill="#0e4d8d"/>
<circle cx="323.94" cy="263.6" r="2.65" fill="#0e4d8d"/>
<polyline points="239.8,250.2 251.82,226.9 287.88,271.0 323.94,263.6" fill="none" stroke="#c8102e" stroke-width="1.55" stroke-linejoin="round"/>
<circle cx="251.82" cy="226.9" r="2.65" fill="#c8102e"/>
<circle cx="287.88" cy="271.0" r="2.65" fill="#c8102e"/>
<circle cx="323.94" cy="263.6" r="2.65" fill="#c8102e"/>
<circle cx="239.8" cy="250.2" r="2.65" fill="#3db54a"/>
<text x="372" y="182.8" font-size="11.3" text-anchor="start" fill="#000" font-weight="bold" stroke="#000" stroke-width="0.2" >F</text>
<line x1="401.2" y1="186" x2="401.2" y2="292.0" stroke="#000" stroke-width="1.1" />
<line x1="400.7" y1="291.5" x2="511.9" y2="291.5" stroke="#000" stroke-width="1.1" />
<line x1="397.9" y1="282.4" x2="401.2" y2="282.4" stroke="#000" stroke-width="1.0" />
<text transform="translate(395.00,285.00) scale(1,1.13)" font-size="8.0" text-anchor="end" fill="#222" font-weight="normal" stroke="#222" stroke-width="0.28" >0</text>
<line x1="397.9" y1="259.55" x2="401.2" y2="259.55" stroke="#000" stroke-width="1.0" />
<text transform="translate(395.00,262.15) scale(1,1.13)" font-size="8.0" text-anchor="end" fill="#222" font-weight="normal" stroke="#222" stroke-width="0.28" >10</text>
<line x1="397.9" y1="236.7" x2="401.2" y2="236.7" stroke="#000" stroke-width="1.0" />
<text transform="translate(395.00,239.30) scale(1,1.13)" font-size="8.0" text-anchor="end" fill="#222" font-weight="normal" stroke="#222" stroke-width="0.28" >20</text>
<line x1="397.9" y1="213.85" x2="401.2" y2="213.85" stroke="#000" stroke-width="1.0" />
<text transform="translate(395.00,216.45) scale(1,1.13)" font-size="8.0" text-anchor="end" fill="#222" font-weight="normal" stroke="#222" stroke-width="0.28" >30</text>
<line x1="397.9" y1="191.0" x2="401.2" y2="191.0" stroke="#000" stroke-width="1.0" />
<text transform="translate(395.00,193.60) scale(1,1.13)" font-size="8.0" text-anchor="end" fill="#222" font-weight="normal" stroke="#222" stroke-width="0.28" >40</text>
<line x1="410.4" y1="291.5" x2="410.4" y2="294.7" stroke="#000" stroke-width="1.0" />
<text transform="translate(410.40,303.90) scale(1,1.13)" font-size="8.0" text-anchor="middle" fill="#222" font-weight="normal" stroke="#222" stroke-width="0.28" >0</text>
<line x1="434.44" y1="291.5" x2="434.44" y2="294.7" stroke="#000" stroke-width="1.0" />
<text transform="translate(434.44,303.90) scale(1,1.13)" font-size="8.0" text-anchor="middle" fill="#222" font-weight="normal" stroke="#222" stroke-width="0.28" >2</text>
<line x1="458.48" y1="291.5" x2="458.48" y2="294.7" stroke="#000" stroke-width="1.0" />
<text transform="translate(458.48,303.90) scale(1,1.13)" font-size="8.0" text-anchor="middle" fill="#222" font-weight="normal" stroke="#222" stroke-width="0.28" >4</text>
<line x1="482.52" y1="291.5" x2="482.52" y2="294.7" stroke="#000" stroke-width="1.0" />
<text transform="translate(482.52,303.90) scale(1,1.13)" font-size="8.0" text-anchor="middle" fill="#222" font-weight="normal" stroke="#222" stroke-width="0.28" >6</text>
<line x1="506.56" y1="291.5" x2="506.56" y2="294.7" stroke="#000" stroke-width="1.0" />
<text transform="translate(506.56,303.90) scale(1,1.13)" font-size="8.0" text-anchor="middle" fill="#222" font-weight="normal" stroke="#222" stroke-width="0.28" >8</text>
<text transform="translate(379.8,265.0) rotate(-90)" x="0" y="0" font-size="8.3" text-anchor="start" fill="#222" stroke="#222" stroke-width="0.5" textLength="28.3" lengthAdjust="spacingAndGlyphs">P-selectin</text>
<text transform="translate(379.8,233.5) rotate(-90)" x="0" y="0" font-size="8.3" text-anchor="start" fill="#222" stroke="#222" stroke-width="0.5" textLength="20.6" lengthAdjust="spacingAndGlyphs">(%SAC)</text>
<text x="456.7" y="315.9" font-size="9.5" text-anchor="middle" fill="#222" stroke="#222" stroke-width="0.6" textLength="10.2" lengthAdjust="spacingAndGlyphs">Day</text>
<line x1="410.4" y1="206.8" x2="410.4" y2="231.1" stroke="#333" stroke-width="1.1" />
<line x1="408.8" y1="206.8" x2="412.0" y2="206.8" stroke="#333" stroke-width="1.1" />
<line x1="408.8" y1="231.1" x2="412.0" y2="231.1" stroke="#333" stroke-width="1.1" />
<line x1="422.42" y1="207" x2="422.42" y2="218.4" stroke="#333" stroke-width="1.1" />
<line x1="420.82" y1="207" x2="424.02" y2="207" stroke="#333" stroke-width="1.1" />
<line x1="420.82" y1="218.4" x2="424.02" y2="218.4" stroke="#333" stroke-width="1.1" />
<line x1="422.42" y1="212" x2="422.42" y2="228.6" stroke="#333" stroke-width="1.1" />
<line x1="420.82" y1="212" x2="424.02" y2="212" stroke="#333" stroke-width="1.1" />
<line x1="420.82" y1="228.6" x2="424.02" y2="228.6" stroke="#333" stroke-width="1.1" />
<line x1="458.48" y1="219.5" x2="458.48" y2="240" stroke="#333" stroke-width="1.1" />
<line x1="456.88" y1="219.5" x2="460.08" y2="219.5" stroke="#333" stroke-width="1.1" />
<line x1="456.88" y1="240" x2="460.08" y2="240" stroke="#333" stroke-width="1.1" />
<line x1="458.48" y1="229" x2="458.48" y2="251.4" stroke="#333" stroke-width="1.1" />
<line x1="456.88" y1="229" x2="460.08" y2="229" stroke="#333" stroke-width="1.1" />
<line x1="456.88" y1="251.4" x2="460.08" y2="251.4" stroke="#333" stroke-width="1.1" />
<line x1="494.54" y1="218.6" x2="494.54" y2="242.5" stroke="#333" stroke-width="1.1" />
<line x1="492.94" y1="218.6" x2="496.14" y2="218.6" stroke="#333" stroke-width="1.1" />
<line x1="492.94" y1="242.5" x2="496.14" y2="242.5" stroke="#333" stroke-width="1.1" />
<line x1="492.94" y1="222.2" x2="496.14" y2="222.2" stroke="#333" stroke-width="1.1" />
<polyline points="410.4,219.5 422.42,212.7 458.48,229.6 494.54,230.3" fill="none" stroke="#0e4d8d" stroke-width="1.55" stroke-linejoin="round"/>
<circle cx="422.42" cy="212.7" r="2.65" fill="#0e4d8d"/>
<circle cx="458.48" cy="229.6" r="2.65" fill="#0e4d8d"/>
<circle cx="494.54" cy="230.3" r="2.65" fill="#0e4d8d"/>
<polyline points="410.4,219.5 422.42,218.0 458.48,240.2 494.54,231.7" fill="none" stroke="#c8102e" stroke-width="1.55" stroke-linejoin="round"/>
<circle cx="422.42" cy="218.0" r="2.65" fill="#c8102e"/>
<circle cx="458.48" cy="240.2" r="2.65" fill="#c8102e"/>
<circle cx="494.54" cy="231.7" r="2.65" fill="#c8102e"/>
<circle cx="410.4" cy="219.5" r="2.65" fill="#3db54a"/>
</svg>
</body></html>
